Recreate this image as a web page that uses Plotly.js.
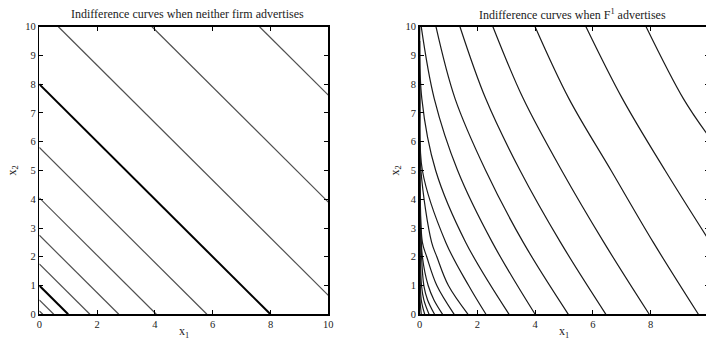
<!DOCTYPE html>
<html>
<head>
<meta charset="utf-8">
<script src="https://cdn.plot.ly/plotly-3.0.1.min.js"></script>
<style>
  html, body { margin: 0; padding: 0; background: #fff; overflow: hidden; }
  #chart { width: 712px; height: 343px; }
</style>
</head>
<body>
<div id="chart"></div>
<script>
// Left panel: straight indifference lines x1 + x2 = level
const flatLevels = [0.12, 0.5, 1, 1.75, 2.75, 4.05, 5.8, 8, 10.66, 13.9, 17.62];
const flatBold = [1, 8];

// Right panel: curves traced as (x1, x2) points, lowest curve first
const advX1 = [
  [0.06, 0.02, 0.008],
  [0.18, 0.06, 0.02, 0.008],
  [0.33, 0.15, 0.07, 0.02, 0.008],
  [0.52, 0.28, 0.15, 0.05, 0.008],
  [0.8, 0.5, 0.3, 0.1, 0.03, 0.008],
  [1.2, 0.6, 0.25, 0.1, 0.02, 0.008],
  [1.68, 1.0, 0.6, 0.42, 0.05, 0.008],
  [2.3, 1.7, 0.91, 0.1, 0.02, 0.008],
  [3.1, 1.6, 0.56, 0.08, 0.01],
  [4.0, 2.52, 1.32, 0.51, 0.06],
  [5.15, 3.59, 2.29, 1.23, 0.57],
  [6.45, 4.88, 3.48, 2.29, 1.4],
  [7.95, 6.38, 4.92, 3.59, 2.54],
  [9.65, 8.09, 6.63, 5.17, 4.0],
  [10, 8.5, 7.02, 5.76],
  [10, 9.13, 7.84]
];
const advX2 = [
  [0, 0.5, 1.5],
  [0, 0.5, 1.5, 3],
  [0, 0.5, 1, 2.5, 4],
  [0, 0.5, 1, 2.5, 5],
  [0, 0.5, 1, 2, 3.5, 6],
  [0, 1, 2, 2.5, 4.5, 7],
  [0, 1, 2, 2.5, 5, 8],
  [0, 1, 2.5, 5, 7.5, 9.5],
  [0, 2.5, 5, 7.5, 10],
  [0, 2.5, 5, 7.5, 10],
  [0, 2.5, 5, 7.5, 10],
  [0, 2.5, 5, 7.5, 10],
  [0, 2.5, 5, 7.5, 10],
  [0, 2.5, 5, 7.5, 10],
  [2.6, 5, 7.5, 10],
  [6.2, 7.5, 10]
];

const xTicks = [0, 2, 4, 6, 8, 10];
const yTicks = [0, 1, 2, 3, 4, 5, 6, 7, 8, 9, 10];

const W = 712, H = 343;
const FONT = 'Liberation Serif, Times New Roman, serif';

const traces = [];
flatLevels.forEach(function (c) {
  const bold = flatBold.indexOf(c) >= 0;
  const xa = Math.max(0, c - 10), xb = Math.min(c, 10);
  traces.push({
    type: 'scatter', mode: 'lines', xaxis: 'x', yaxis: 'y',
    x: [xa, xb], y: [c - xa, c - xb],
    line: { color: bold ? '#000' : '#505050', width: bold ? 2 : 1.2 },
    hoverinfo: 'skip', showlegend: false
  });
});
advX1.forEach(function (xs, i) {
  traces.push({
    type: 'scatter', mode: 'lines', xaxis: 'x2', yaxis: 'y2',
    x: xs, y: advX2[i],
    line: { color: '#1a1a1a', width: 1.2, shape: 'spline', smoothing: 1 },
    hoverinfo: 'skip', showlegend: false
  });
});

function px(v) { return v / W; }
function py(v) { return 1 - v / H; }

const axBase = {
  range: [0, 10], showgrid: false, zeroline: false,
  showline: true, linecolor: '#000', linewidth: 1.5, mirror: 'ticks',
  ticks: 'inside', ticklen: 4, tickwidth: 1, tickcolor: '#000',
  tickfont: { family: FONT, size: 10.5, color: '#222' }, fixedrange: true
};
const yDom = [py(314.3), py(26.7)];

const layout = {
  width: W, height: H,
  margin: { l: 0, r: 0, t: 0, b: 0 },
  paper_bgcolor: '#fff', plot_bgcolor: '#fff',
  showlegend: false,
  xaxis: Object.assign({}, axBase, { domain: [px(39.3), px(328.3)], anchor: 'y', tickvals: xTicks }),
  yaxis: Object.assign({}, axBase, { domain: yDom, anchor: 'x', tickvals: yTicks }),
  xaxis2: Object.assign({}, axBase, { domain: [px(419.5), px(708.5)], anchor: 'y2', tickvals: xTicks }),
  yaxis2: Object.assign({}, axBase, { domain: yDom, anchor: 'x2', tickvals: yTicks }),
  annotations: [
    { text: 'Indifference curves when neither firm advertises', x: px(188), y: py(14),
      xref: 'paper', yref: 'paper', showarrow: false, xanchor: 'center', yanchor: 'middle',
      font: { family: FONT, size: 12, color: '#222' } },
    { text: 'Indifference curves when F<sup>1</sup> advertises', x: px(572), y: py(14),
      xref: 'paper', yref: 'paper', showarrow: false, xanchor: 'center', yanchor: 'middle',
      font: { family: FONT, size: 12, color: '#222' } },
    { text: 'x<sub>1</sub>', x: px(183.8), y: py(332), xref: 'paper', yref: 'paper',
      showarrow: false, xanchor: 'center', yanchor: 'middle',
      font: { family: FONT, size: 12, color: '#222' } },
    { text: 'x<sub>1</sub>', x: px(564), y: py(332), xref: 'paper', yref: 'paper',
      showarrow: false, xanchor: 'center', yanchor: 'middle',
      font: { family: FONT, size: 12, color: '#222' } },
    { text: 'x<sub>2</sub>', x: px(12), y: py(170.5), xref: 'paper', yref: 'paper',
      showarrow: false, textangle: -90, xanchor: 'center', yanchor: 'middle',
      font: { family: FONT, size: 12, color: '#222' } },
    { text: 'x<sub>2</sub>', x: px(395), y: py(170.5), xref: 'paper', yref: 'paper',
      showarrow: false, textangle: -90, xanchor: 'center', yanchor: 'middle',
      font: { family: FONT, size: 12, color: '#222' } }
  ]
};

Plotly.newPlot('chart', traces, layout, { displayModeBar: false, staticPlot: true });
</script>
</body>
</html>
